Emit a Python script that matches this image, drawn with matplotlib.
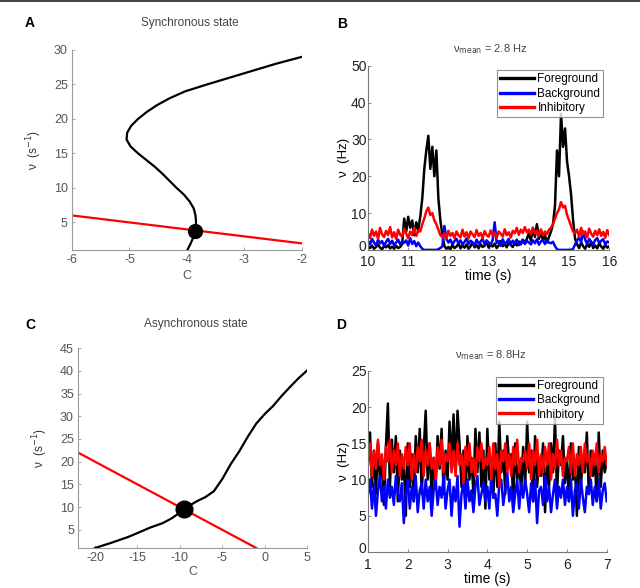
import matplotlib
matplotlib.use("Agg")
import matplotlib.pyplot as plt
import matplotlib.transforms as mtransforms
import numpy as np
from matplotlib.patches import Rectangle

plt.rcParams['font.family'] = ['Liberation Sans', 'DejaVu Sans']
plt.rcParams['axes.unicode_minus'] = False

# ---- panel A: synchronous state ----
a_curve_v = [1, 2, 3, 4, 5, 6, 7, 8, 9, 10, 11, 12, 13, 14, 15, 16, 17, 18, 19, 20,
             21, 22, 23, 24, 25, 26, 27, 28, 29]
a_curve_c = [-3.99, -3.93, -3.88, -3.85, -3.84, -3.85, -3.88, -3.95, -4.05, -4.18,
             -4.30, -4.42, -4.55, -4.70, -4.85, -4.98, -5.05, -5.04, -4.97, -4.85,
             -4.70, -4.52, -4.30, -4.03, -3.65, -3.25, -2.85, -2.45, -2.00]
a_line_c = [-6, -2]
a_line_v = [6.0, 1.95]
a_dot = (-3.85, 3.7)

# ---- panel C: asynchronous state ----
c_curve_c = [-20, -18, -16, -15, -13.5, -12, -11, -10, -9, -8, -7, -6, -5, -4, -3,
             -2, -1, 0, 1, 2, 3, 4, 5]
c_curve_v = [1.0, 2.2, 3.5, 4.3, 5.5, 6.5, 7.5, 8.8, 10.2, 11.3, 12.2, 13.5, 16.2,
             19.5, 22.3, 25.5, 28.4, 30.5, 32.3, 34.5, 36.5, 38.4, 40.1]
c_line_c = [-22, -1]
c_line_v = [22, 1]
c_dot = (-9.5, 9.6)

# ---- panel B: rates, 10-16 s, step 0.05 s ----
b_time = np.arange(121) * 0.05 + 10
b_fore = [1.0, 0.5, 1.2, 0.3, 0.8, 1.5, 0.6, 0.2, 1.0, 0.7, 1.3, 0.4, 0.9, 0.3, 1.1, 0.5, 0.8, 1.6,
          8.5, 5.0, 9.0, 6.0, 8.0, 4.0, 7.5, 5.5,
          9.0, 14, 22, 27,
          31, 22, 28,
          20, 27, 14, 8, 4,
          1.0, 0.3, 0.8, 0.2, 1.4, 0.5, 0.9, 1.8, 0.4, 1.2, 0.6, 1.5, 0.3, 1.0, 2.0, 0.7, 1.3, 0.4,
          1.6, 0.8, 1.1, 2.2, 0.6, 1.4, 0.9, 1.7, 0.5, 1.2, 2.4, 1.0, 1.6, 0.7, 2.0, 1.3, 0.8, 1.9,
          1.2, 2.3, 1.5, 2.8, 1.8, 3.0,
          4.5, 2.5, 6.0, 3.5, 7.0, 3.0, 5.0, 2.5, 4.0, 2.0, 3.5, 5.0,
          7, 12, 27, 20,
          37, 28, 33,
          24, 20, 15, 8, 3,
          1.5, 0.5, 2.0, 1.0, 0.3, 1.6, 0.8, 2.2, 0.5, 1.2, 0.4, 1.8, 0.9, 0.3, 1.4, 0.6, 1.0]
b_back = [2.5, 1.5, 3.0, 2.0, 1.2, 2.8, 1.8, 2.4, 1.0, 2.2, 3.0, 1.6, 2.5, 1.3, 2.0, 2.8, 1.5,
          2.3, 1.9, 2.6, 1.2, 3.2, 1.6, 2.4, 1.0, 2.0,
          1.0, 0.3, 0.0, 0.0, 0.0, 0.0, 0.0, 0.0, 0.0, 0.2, 0.5, 1.0,
          6.5, 3.0, 2.0, 2.8, 1.5, 2.4, 3.0, 1.8, 2.6, 1.4,
          2.2, 3.1, 1.6, 2.5, 2.0, 1.2, 2.8, 1.7, 2.3, 3.0,
          1.5, 2.6, 2.0, 1.4, 2.7, 7.5, 1.9, 2.4, 1.1, 2.9,
          1.6, 2.2, 3.0, 1.5, 2.5, 1.8, 2.8, 1.3, 2.1, 2.7,
          1.6, 2.4,
          2.0, 1.5, 2.6, 1.8, 2.9, 1.4, 2.3, 2.7, 1.6, 2.5, 2.0, 1.8,
          2.2, 1.0, 0.2, 0.0, 0.0, 0.0, 0.0, 0.0, 0.0, 0.0, 0.3, 1.5,
          2.5, 3.5, 2.0, 5.0, 2.8, 1.6, 3.0, 2.2, 1.4, 2.7, 3.2, 1.8, 2.5, 2.9, 1.5, 2.3, 2.0]
b_inh = [4.5, 3.2, 5.5, 3.8, 5.0, 3.0, 6.0, 4.2, 3.5, 5.2, 4.0, 6.2, 3.4, 4.8, 3.0, 5.5, 4.1,
         3.6, 5.8, 4.4, 3.2, 5.0, 4.0, 6.0, 3.8, 5.2,
         5.0, 7.0, 8.5, 10.5, 11.5, 9.5, 10.0, 8.0, 7.0, 5.5, 4.0, 3.5,
         4.5, 3.0, 5.2, 3.8, 4.6, 3.2, 5.0, 4.0, 3.4, 5.5, 3.6, 4.8, 3.1, 5.0, 4.2, 3.5, 5.4, 3.8,
         4.6, 3.2, 5.1, 4.0, 3.6, 5.3, 3.9, 4.7, 3.3, 5.0, 4.4, 3.6, 5.6, 4.0, 4.8, 3.4, 5.2, 4.5,
         6.0, 4.1, 5.5, 4.6, 6.2, 4.8,
         5.5, 4.2, 6.0, 4.5, 5.2, 3.8, 5.6, 4.0, 5.0, 4.3, 5.5, 6.0,
         7.0, 8.5, 10.0, 11.0, 13.0, 11.5, 12.0, 9.5, 8.0, 6.5, 5.0, 4.5,
         5.5, 3.5, 6.0, 4.2, 5.0, 3.4, 5.8, 4.4, 3.6, 5.2, 4.0, 5.6, 3.8, 4.9, 3.3, 5.4, 4.0]

# ---- panel D: rates, 1-7 s, step 0.05 s ----
d_time = np.arange(121) * 0.05 + 1
d_fore = [12, 16.5, 9, 14, 8, 15, 10, 13, 6.5, 14.5, 20.5, 9, 15.5, 11, 16, 7, 14, 10, 12.5, 5,
          15, 9, 13.5, 7, 16, 11, 17, 8, 14, 19.5, 10, 15, 7.5, 13, 9, 16, 11.5, 17, 8, 14,
          10, 18, 12, 19, 11, 19.5, 15, 9, 14, 7, 16, 10, 13, 8, 17, 11, 16.5, 9, 14, 6,
          17, 10, 13, 7.5, 15, 9, 18, 11, 14, 8, 16, 12, 13.5, 7, 15, 10, 12, 8.5, 14.5, 9,
          18, 11, 14, 7, 16, 9, 13, 10.5, 15, 5.5, 13, 9, 15, 11, 18.5, 8, 14, 12, 16, 9.5,
          13, 7, 15, 10, 12, 5, 14.5, 9, 13, 11, 16.5, 8, 14, 10.5, 13, 7, 16.5, 9, 14, 11, 12.5]
d_back = [8, 10, 6, 9.5, 5, 8.5, 10.5, 7, 9, 6, 10, 7.5, 9, 6.5, 10.5, 8, 7, 9.5, 4, 8,
          10, 6, 9, 7, 10.5, 5.5, 8.5, 9.5, 6, 10, 7, 9, 5, 8.5, 10, 6.5, 9, 7.5, 10.5, 6,
          8.5, 10, 5, 9, 7, 10.5, 3.5, 8, 9.5, 6, 10, 7, 8.5, 5.5, 9, 10.5, 6.5, 8, 9.5, 7,
          9, 6, 10.5, 7.5, 8, 5, 9.5, 10, 6.5, 8.5, 11, 7, 9, 5.5, 8, 10, 6, 9.5, 7.5, 10,
          8, 5.5, 9.5, 7, 10, 4, 8.5, 9, 6.5, 10.5, 7, 9, 5.5, 8, 10, 6, 9, 7.5, 10, 6.5,
          9, 7, 10, 5, 8.5, 9.5, 6, 10, 7.5, 5.5, 9, 8, 10, 6.5, 9, 7, 10, 6, 8.5, 9.5, 7]
d_inh = [13, 15, 10.5, 14, 11.5, 15.5, 12, 13.5, 10, 14.5, 12.5, 15.5, 11, 14, 12, 15, 10.5, 13.5, 11.5, 14.5,
         12, 15, 10, 13.5, 11, 14.5, 12.5, 15.5, 10.5, 14, 12, 15, 11.5, 13, 10, 14.5, 12, 15.5, 11, 13.5,
         12.5, 15, 11, 14, 10.5, 15, 12, 13.5, 9.5, 14.5, 12, 15, 11, 13, 10.5, 14.5, 12.5, 15, 11.5, 13,
         12, 14.5, 10, 15, 11.5, 13.5, 9, 14, 12.5, 15, 11, 13.5, 10.5, 14.5, 12, 15.5, 11, 13, 12.5, 14,
         11.5, 15, 10, 14, 12, 15.5, 10.5, 13.5, 11, 14.5, 12, 15, 10, 13.5, 11.5, 15.5, 12, 14, 10.5, 13,
         12.5, 14.5, 11, 15, 10.5, 13.5, 12, 14.5, 11, 15, 12.5, 13.5, 10.5, 14, 12, 15, 11, 13.5, 12.5, 14.5, 12]

fig = plt.figure(figsize=(6.4, 5.88), dpi=100)

# thin dark strip at the very top of the picture
fig.add_artist(Rectangle((0, 0.996), 1, 0.004, transform=fig.transFigure,
                         color='#444444', lw=0))


def style_phase(ax):
    for s in ['top', 'right']:
        ax.spines[s].set_visible(False)
    for s in ['left', 'bottom']:
        ax.spines[s].set_color('#999999')
        ax.spines[s].set_linewidth(0.8)
    ax.tick_params(direction='in', length=2.5, width=0.6, color='#999999',
                   labelsize=9, labelcolor='#555555', pad=3)


def style_rate(ax):
    for s in ['top', 'right']:
        ax.spines[s].set_visible(False)
    for s in ['left', 'bottom']:
        ax.spines[s].set_color('#777777')
        ax.spines[s].set_linewidth(0.8)
    ax.tick_params(direction='in', length=2.5, width=0.6, color='#777777',
                   labelsize=10, labelcolor='#222222', pad=1)
    ax.tick_params(axis='x', pad=4)
    # lift the "0" label a touch so it does not sit on the first x label
    lift = mtransforms.ScaledTranslation(0, 3 / 72, fig.dpi_scale_trans)
    lbl = ax.get_yticklabels()[0]
    lbl.set_transform(lbl.get_transform() + lift)


def rate_legend(ax, anchor):
    leg = ax.legend(loc='upper right', bbox_to_anchor=anchor, fontsize=8.5,
                    frameon=True, fancybox=False, edgecolor='#777777', handlelength=2.9,
                    borderpad=0.25, labelspacing=0.2, handletextpad=0.3, borderaxespad=0)
    leg.get_frame().set_linewidth(0.8)
    for h in leg.get_lines():
        h.set_linewidth(2.4)


# A
axA = fig.add_axes([0.1125, 0.575, 0.359, 0.340])
axA.plot(a_curve_c, a_curve_v, color='black', lw=1.6)
axA.plot(a_line_c, a_line_v, color='#ff0000', lw=1.6)
axA.plot([a_dot[0]], [a_dot[1]], 'o', color='black', ms=10)
axA.set_xlim(-6, -2)
axA.set_ylim(1, 30)
axA.set_xticks([-6, -5, -4, -3, -2])
axA.set_yticks([5, 10, 15, 20, 25, 30])
style_phase(axA)
axA.set_xlabel('C', fontsize=9, color='#555555', labelpad=3)
axA.set_ylabel('ν  (s$^{-1}$)', fontsize=8.5, color='#333333', labelpad=7)
fig.text(0.297, 0.961, 'Synchronous state', ha='center', va='center',
         fontsize=8.5, color='#444444')
fig.text(0.047, 0.961, 'A', ha='center', va='center', fontsize=10, fontweight='bold')

# C
axC = fig.add_axes([0.122, 0.068, 0.358, 0.340])
axC.plot(c_curve_c, c_curve_v, color='black', lw=1.6)
axC.plot(c_line_c, c_line_v, color='#ff0000', lw=1.6)
axC.plot([c_dot[0]], [c_dot[1]], 'o', color='black', ms=12)
axC.set_xlim(-22, 5)
axC.set_ylim(1, 45)
axC.set_xticks([-20, -15, -10, -5, 0, 5])
axC.set_yticks([5, 10, 15, 20, 25, 30, 35, 40, 45])
style_phase(axC)
axC.set_xlabel('C', fontsize=9, color='#555555', labelpad=1)
axC.set_ylabel('ν  (s$^{-1}$)', fontsize=8.5, color='#333333', labelpad=7)
fig.text(0.306, 0.449, 'Asynchronous state', ha='center', va='center',
         fontsize=8.5, color='#444444')
fig.text(0.047, 0.447, 'C', ha='center', va='center', fontsize=10, fontweight='bold')

# B
axB = fig.add_axes([0.575, 0.575, 0.377, 0.313])
axB.plot(b_time, b_fore, color='black', lw=1.8, label='Foreground')
axB.plot(b_time, b_back, color='#0000ff', lw=1.8, label='Background')
axB.plot(b_time, b_inh, color='#ff0000', lw=1.8, label='Inhibitory')
axB.set_xlim(10, 16)
axB.set_ylim(0, 50)
axB.set_xticks([10, 11, 12, 13, 14, 15, 16])
axB.set_yticks([0, 10, 20, 30, 40, 50])
style_rate(axB)
axB.set_xlabel('time (s)', fontsize=10, labelpad=0)
axB.set_ylabel('ν  (Hz)', fontsize=9.5, labelpad=1)
rate_legend(axB, (0.975, 0.975))
fig.text(0.766, 0.917, 'ν$_{\\mathrm{mean}}$ = 2.8 Hz', ha='center', va='center',
         fontsize=8, color='#444444')
fig.text(0.534, 0.959, 'B', ha='center', va='center', fontsize=10, fontweight='bold')

# D
axD = fig.add_axes([0.575, 0.0612, 0.373, 0.308])
axD.plot(d_time, d_fore, color='black', lw=1.8, label='Foreground')
axD.plot(d_time, d_back, color='#0000ff', lw=1.8, label='Background')
axD.plot(d_time, d_inh, color='#ff0000', lw=1.8, label='Inhibitory')
axD.set_xlim(1, 7)
axD.set_ylim(0, 25)
axD.set_xticks([1, 2, 3, 4, 5, 6, 7])
axD.set_yticks([0, 5, 10, 15, 20, 25])
style_rate(axD)
axD.set_xlabel('time (s)', fontsize=10, labelpad=0)
axD.set_ylabel('ν  (Hz)', fontsize=9.5, labelpad=1)
rate_legend(axD, (0.983, 0.967))
fig.text(0.766, 0.396, 'ν$_{\\mathrm{mean}}$ = 8.8Hz', ha='center', va='center',
         fontsize=8, color='#444444')
fig.text(0.533, 0.447, 'D', ha='center', va='center', fontsize=10, fontweight='bold')

fig.savefig('out.png', dpi=100)
